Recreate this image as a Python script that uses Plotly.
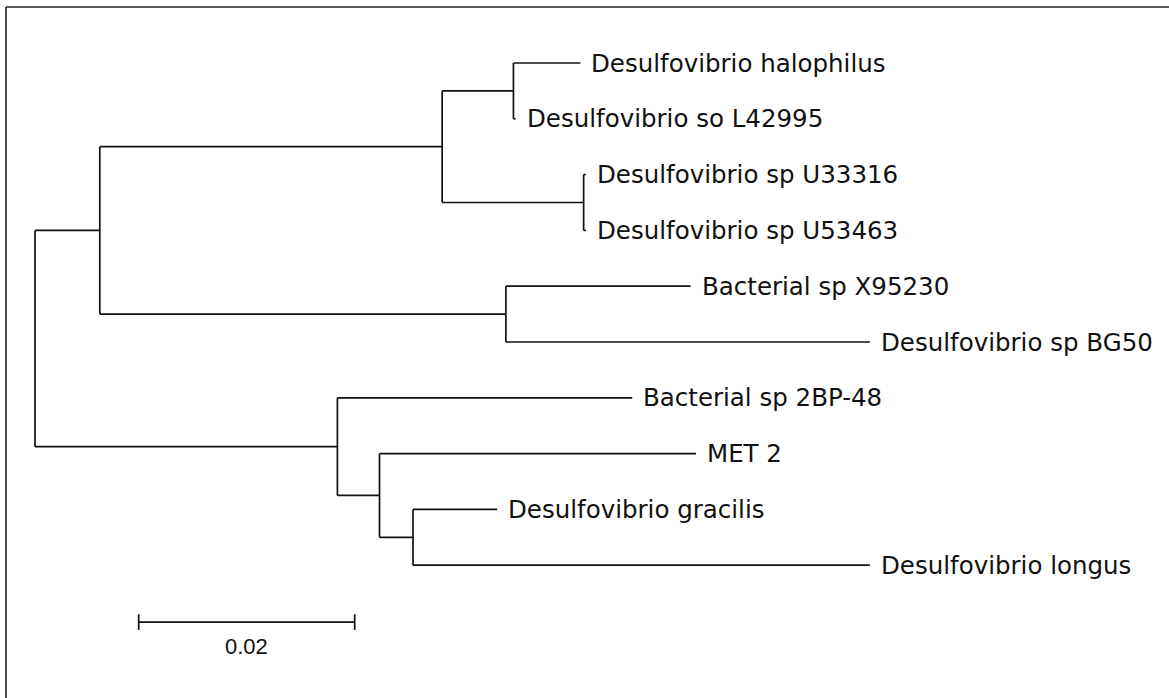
import plotly.graph_objects as go

# Leaf order, top to bottom
taxa = [
    "Desulfovibrio halophilus",
    "Desulfovibrio so L42995",
    "Desulfovibrio sp U33316",
    "Desulfovibrio sp U53463",
    "Bacterial sp X95230",
    "Desulfovibrio sp BG50",
    "Bacterial sp 2BP-48",
    "MET 2",
    "Desulfovibrio gracilis",
    "Desulfovibrio longus",
]

# Tree edges: parent, child, branch length (substitutions per site)
edge_parent = ["root", "n1", "n2", "n3", "n3", "n2", "n4", "n4",
               "n1", "n5", "n5", "root", "n6", "n6", "n7", "n7", "n8", "n8"]
edge_child = ["n1", "n2", "n3", taxa[0], taxa[1], "n4", taxa[2], taxa[3],
              "n5", taxa[4], taxa[5], "n6", taxa[6], "n7", taxa[7], "n8", taxa[8], taxa[9]]
edge_length = [0.0060, 0.0317, 0.0066, 0.0062, 0.0002, 0.0131, 0.0002, 0.0002,
               0.0376, 0.0171, 0.0337, 0.0280, 0.0273, 0.0039, 0.0293, 0.0031, 0.0078, 0.0423]

scale_length = 0.02
scale_label = "0.02"

# ---- layout of the tree ----
children = {}
for p, c, L in zip(edge_parent, edge_child, edge_length):
    children.setdefault(p, []).append((c, L))

xpos = {"root": 0.0}
ypos = {}


def place(node):
    for c, L in children.get(node, []):
        xpos[c] = xpos[node] + L
        place(c)
    if node in taxa:
        ypos[node] = taxa.index(node)
    else:
        ys = [ypos[c] for c, _ in children[node]]
        ypos[node] = (min(ys) + max(ys)) / 2


place("root")

lx, ly = [], []
for node, kids in children.items():
    ys = [ypos[c] for c, _ in kids]
    # vertical connector
    lx += [xpos[node], xpos[node], None]
    ly += [min(ys), max(ys), None]
    # horizontal branches
    for c, _ in kids:
        lx += [xpos[node], xpos[c], None]
        ly += [ypos[c], ypos[c], None]

fig = go.Figure()
fig.add_trace(go.Scatter(x=lx, y=ly, mode="lines",
                         line=dict(color="#111111", width=1.7),
                         hoverinfo="skip", showlegend=False))

# Scale bar
sb_x0 = 0.0096
sb_y = 10.02
tick = 0.14
fig.add_trace(go.Scatter(
    x=[sb_x0, sb_x0 + scale_length, None, sb_x0, sb_x0, None,
       sb_x0 + scale_length, sb_x0 + scale_length],
    y=[sb_y, sb_y, None, sb_y - tick, sb_y + tick, None, sb_y - tick, sb_y + tick],
    mode="lines", line=dict(color="#111111", width=1.7),
    hoverinfo="skip", showlegend=False))
fig.add_annotation(x=sb_x0 + scale_length / 2, y=sb_y + 0.43, text=scale_label,
                   showarrow=False, xanchor="center", yanchor="middle",
                   font=dict(family="Liberation Sans, Arial", size=22, color="#111111"))

# Leaf labels
for t in taxa:
    fig.add_annotation(x=xpos[t], y=ypos[t], text=t, showarrow=False,
                       xanchor="left", yanchor="middle", xshift=9,
                       font=dict(family="DejaVu Sans", size=24.5, color="#111111"))

W, H = 1169, 698
px_per_unit = 10800.0
root_px = 35.0
leaf0_px = 63.0
leaf_step = 55.8

fig.update_layout(
    width=W, height=H,
    margin=dict(l=0, r=0, t=0, b=0),
    paper_bgcolor="white", plot_bgcolor="white",
    xaxis=dict(range=[-root_px / px_per_unit, (W - root_px) / px_per_unit],
               visible=False, fixedrange=True),
    yaxis=dict(range=[(H - leaf0_px) / leaf_step, -leaf0_px / leaf_step],
               visible=False, fixedrange=True),
    shapes=[
        dict(type="line", xref="paper", yref="paper",
             x0=6 / W, x1=1.0, y0=1 - 7 / H, y1=1 - 7 / H,
             line=dict(color="#222222", width=1.6)),
        dict(type="line", xref="paper", yref="paper",
             x0=6 / W, x1=6 / W, y0=1 - 7 / H, y1=0.0,
             line=dict(color="#222222", width=1.6)),
    ],
)

fig.write_html("out.html")
